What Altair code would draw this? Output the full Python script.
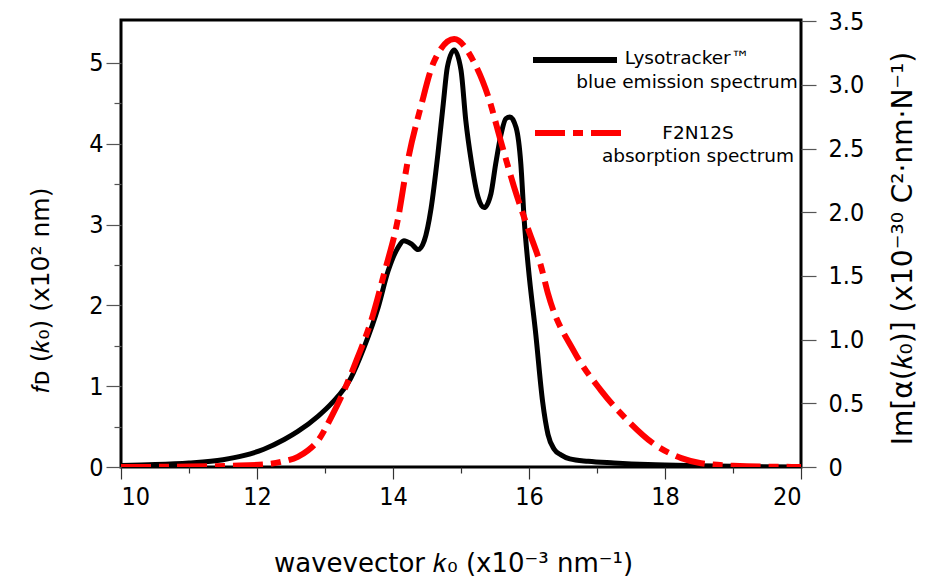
import altair as alt
import pandas as pd

# Lysotracker blue emission spectrum (left axis, x10^2 nm)
k_black = [10.0, 10.5, 11.0, 11.5, 11.8, 12.1, 12.4, 12.6, 12.9, 13.1, 13.38, 13.57,
           13.78, 13.93, 14.07, 14.16, 14.27, 14.37, 14.46, 14.56, 14.66, 14.74, 14.8,
           14.9, 15.0, 15.07, 15.15, 15.25, 15.34, 15.44, 15.51, 15.59, 15.66, 15.72,
           15.81, 15.88, 15.93, 15.99, 16.1, 16.2, 16.28, 16.37, 16.47, 16.6, 16.87,
           17.25, 17.75, 18.5, 19.25, 20.0]
f_black = [0.02, 0.03, 0.05, 0.09, 0.14, 0.22, 0.34, 0.44, 0.63, 0.79, 1.1, 1.47,
           1.97, 2.43, 2.71, 2.8, 2.76, 2.69, 2.8, 3.2, 3.87, 4.5, 4.95,
           5.16, 4.91, 4.29, 3.79, 3.34, 3.21, 3.38, 3.75, 4.12, 4.31, 4.33,
           4.2, 3.75, 3.05, 2.47, 1.64, 0.81, 0.4, 0.22, 0.15, 0.1, 0.07,
           0.05, 0.03, 0.015, 0.005, 0.0]

# F2N12S absorption spectrum (right axis, x10^-30 C^2 nm N^-1)
k_red = [10.0, 11.0, 11.62, 12.1, 12.35, 12.6, 12.75, 12.9, 13.09, 13.28, 13.48, 13.68,
         13.87, 14.07, 14.22, 14.41, 14.6, 14.9, 15.19, 15.4, 15.59, 15.78, 15.98,
         16.18, 16.28, 16.66, 17.06, 17.46, 17.84, 18.24, 18.53, 19.0, 20.0]
a_red = [0.0, 0.003, 0.01, 0.02, 0.04, 0.08, 0.13, 0.21, 0.39, 0.6, 0.86, 1.15,
         1.52, 1.94, 2.41, 2.83, 3.18, 3.36, 3.18, 2.91, 2.55, 2.2, 1.88,
         1.57, 1.36, 0.91, 0.6, 0.36, 0.18, 0.07, 0.03, 0.01, 0.0]

x_ticks = [10, 10.5, 11, 11.5, 12, 12.5, 13, 13.5, 14, 14.5, 15, 15.5, 16, 16.5,
           17, 17.5, 18, 18.5, 19, 19.5, 20]
left_ticks = [0, 0.5, 1, 1.5, 2, 2.5, 3, 3.5, 4, 4.5, 5]
right_ticks = [0, 0.5, 1.0, 1.5, 2.0, 2.5, 3.0, 3.5]

legend_black = ["Lysotracker™", "blue emission spectrum"]
legend_red = ["F2N12S", "absorption spectrum"]

FONT = "DejaVu Sans"
TICKFONT = "DejaVu Sans Condensed"
TICK = "#555555"

black = pd.DataFrame({"k": k_black, "f": f_black})
red = pd.DataFrame({"k": k_red, "a": a_red})

x_enc = alt.X(
    "k:Q",
    scale=alt.Scale(domain=[10, 20], nice=False, zero=False),
    axis=alt.Axis(
        values=x_ticks,
        labelExpr="datum.value % 2 === 0 ? format(datum.value, 'd') : ''",
        tickSize={"condition": {"test": "datum.value % 2 === 0", "value": 12}, "value": 6},
        tickColor="#333333", tickWidth=1.2, domain=False, grid=False,
        labelFont=TICKFONT, labelFontSize=25, labelColor="black", labelPadding=5,
        title="wavevector 𝑘₀ (x10⁻³ nm⁻¹)", titleFont=FONT, titleFontSize=26,
        titleFontWeight="normal", titleColor="black",
        titleX=332, titleY=96, titleBaseline="middle", titleAlign="center",
    ),
)

black_line = alt.Chart(black).mark_line(
    color="black", strokeWidth=5, interpolate="monotone", clip=True, strokeCap="butt"
).encode(
    x=x_enc,
    y=alt.Y(
        "f:Q",
        scale=alt.Scale(domain=[0, 5.53], nice=False, zero=True),
        axis=alt.Axis(
            orient="left", values=left_ticks,
            labelExpr="datum.value % 1 === 0 ? format(datum.value, 'd') : ''",
            tickSize={"condition": {"test": "datum.value % 1 === 0", "value": 15}, "value": 7},
            tickColor=TICK, tickWidth=1.2, domain=False, grid=False,
            labelFont=TICKFONT, labelFontSize=25, labelColor="black", labelPadding=3,
            title="𝑓ᴅ (𝑘₀) (x10² nm)", titleFont=FONT, titleFontSize=25,
            titleFontWeight="normal", titleColor="black",
            titleAngle=270, titleX=-81, titleY=270,
            titleBaseline="middle", titleAlign="center",
        ),
    ),
)

red_line = alt.Chart(red).mark_line(
    color="#ff0000", strokeWidth=6, interpolate="monotone", clip=True,
    strokeDash=[30, 8, 10, 8], strokeCap="butt"
).encode(
    x=alt.X("k:Q", scale=alt.Scale(domain=[10, 20], nice=False, zero=False)),
    y=alt.Y(
        "a:Q",
        scale=alt.Scale(domain=[0, 3.51], nice=False, zero=True),
        axis=alt.Axis(
            orient="right", values=right_ticks,
            labelExpr="datum.value === 0 ? '0' : format(datum.value, '.1f')",
            tickSize=15, tickColor=TICK, tickWidth=1.2, domain=False, grid=False,
            labelFont=TICKFONT, labelFontSize=25, labelColor="black", labelPadding=12,
            title="Im[α(𝑘₀)] (x10⁻³⁰ C²·nm·N⁻¹)", titleFont=FONT, titleFontSize=28,
            titleFontWeight="normal", titleColor="black",
            titleAngle=270, titleX=102, titleY=228,
            titleBaseline="middle", titleAlign="center",
        ),
    ),
)

one = pd.DataFrame({"t": [""]})

leg_black_rule = alt.Chart(one).mark_rule(color="black", strokeWidth=6).encode(
    x=alt.value(412), x2=alt.value(496), y=alt.value(40)
)
leg_red_rule = alt.Chart(one).mark_rule(
    color="#ff0000", strokeWidth=6, strokeDash=[30, 8, 10, 8]
).encode(x=alt.value(414), x2=alt.value(501), y=alt.value(113))


def leg_text(txt, px, py):
    return alt.Chart(pd.DataFrame({"t": [txt]})).mark_text(
        font=FONT, fontSize=18.5, color="black", align="center", baseline="middle"
    ).encode(x=alt.value(px), y=alt.value(py), text="t:N")


legend = [
    leg_black_rule,
    leg_red_rule,
    leg_text(legend_black[0], 566, 38),
    leg_text(legend_black[1], 566, 62),
    leg_text(legend_red[0], 577, 113),
    leg_text(legend_red[1], 577, 136),
]

chart = alt.layer(black_line, red_line, *legend).resolve_scale(
    y="independent"
).properties(
    width=680, height=447,
    autosize=alt.AutoSizeParams(type="none"),
    padding={"left": 113, "top": 12, "right": 118, "bottom": 113},
    background="white",
).configure_view(stroke="black", strokeWidth=3)

chart.save("out.html", embed_options={"renderer": "svg", "actions": False})
